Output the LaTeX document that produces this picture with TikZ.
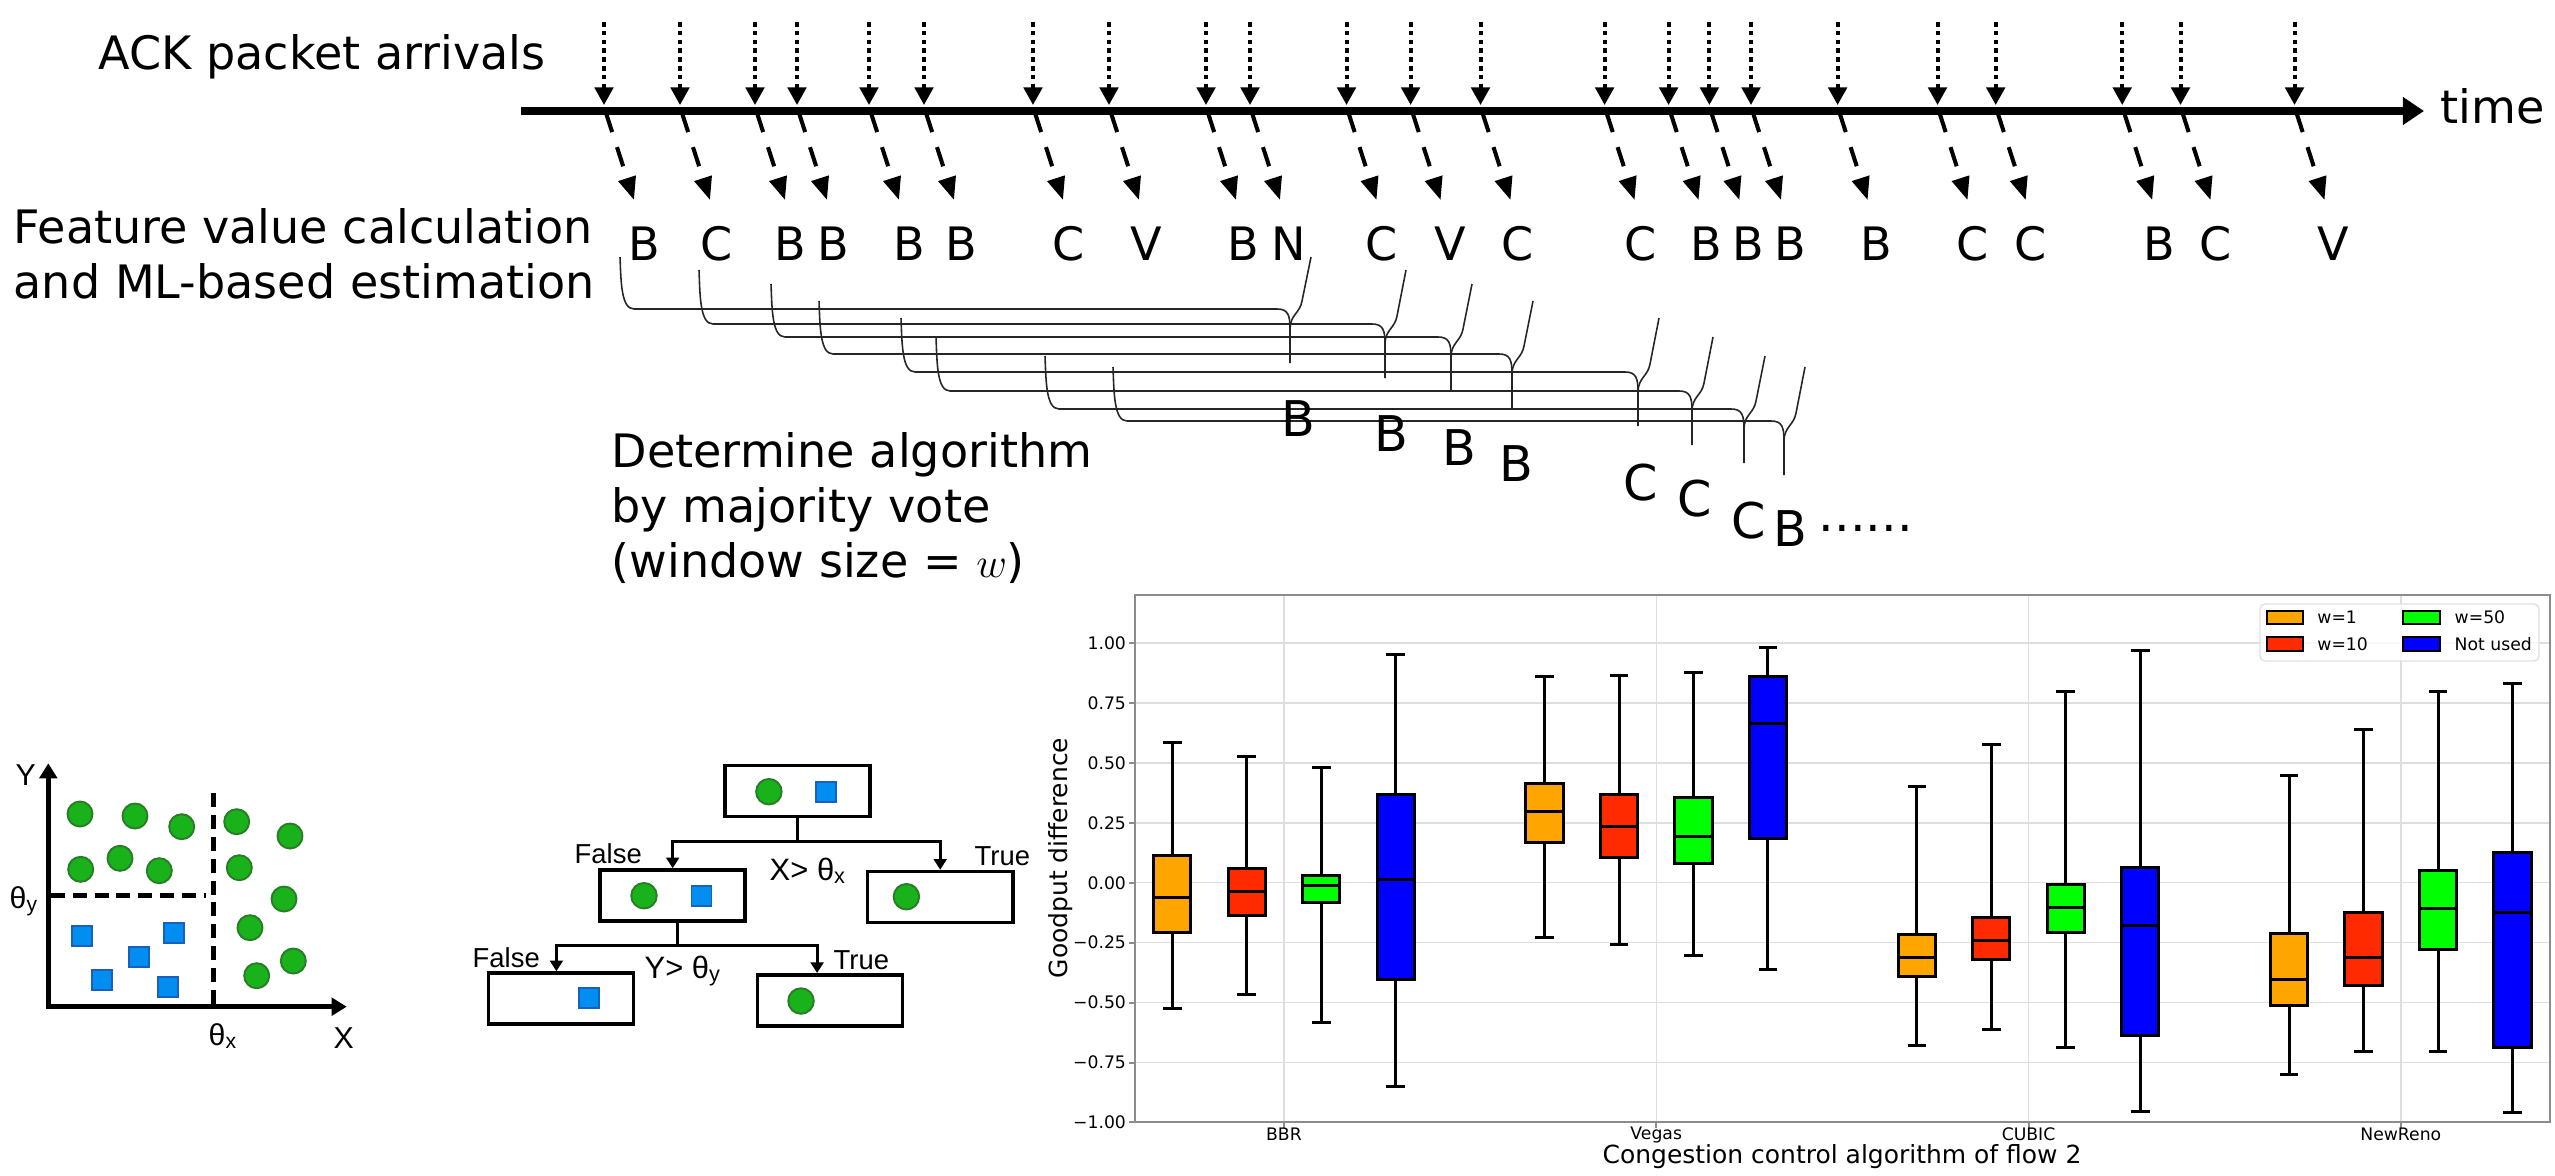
\documentclass[tikz,border=0pt]{standalone}
\usepackage{fontspec}
\setmainfont{DejaVu Sans}
\newfontfamily\arialf{Liberation Sans}
\usetikzlibrary{arrows.meta}

\definecolor{dotgreen}{RGB}{26,178,26}
\definecolor{dotgreenD}{RGB}{40,125,40}
\definecolor{sqblue}{RGB}{0,142,240}
\definecolor{sqblueD}{RGB}{25,95,190}
\definecolor{bxorange}{RGB}{255,165,0}
\definecolor{bxred}{RGB}{255,42,0}
\definecolor{bxgreen}{RGB}{0,255,0}
\definecolor{bxblue}{RGB}{0,0,255}
\definecolor{gridc}{RGB}{222,222,222}
\definecolor{spinec}{RGB}{140,140,140}

\newcommand\fBig{\fontsize{13.1pt}{15.7pt}\selectfont}
\newcommand\fRes{\fontsize{14pt}{16pt}\selectfont}
\newcommand\fTree{\arialf\fontsize{7.8pt}{9pt}\selectfont}
\newcommand\fCond{\arialf\fontsize{8.8pt}{10pt}\selectfont}
\newcommand\fAx{\arialf\fontsize{8.6pt}{10pt}\selectfont}
\newcommand\fTick{\fontsize{4.9pt}{6pt}\selectfont}
\newcommand\fTitle{\fontsize{7.1pt}{8.5pt}\selectfont}

% majority-vote brace: left x, arm top y, horizontal y, tip x
\newcommand\mybrace[4]{%
  \draw[braceline] (#1,#2) .. controls (#1+1,#3-28) and (#1+1,#3) .. (#1+14,#3)
     -- (#4-13,#3) .. controls (#4-2,#3) and (#4,#3+6) .. (#4,#3+20) -- (#4,#3+54);
  \draw[braceline] (#4,#3+20) .. controls (#4,#3+6) and (#4+10,#3+4) .. (#4+12,#3-8)
     -- (#4+21,#2);
}
% box plot: pos, low, q1, med, q3, high, colour
\newcommand\bxp[7]{%
  \draw[whisk] (#1,#2) -- (#1,#3) (#1,#5) -- (#1,#6)
    (#1-0.025,#2) -- (#1+0.025,#2) (#1-0.025,#6) -- (#1+0.025,#6);
  \filldraw[boxl, fill=#7] (#1-0.05,#3) rectangle (#1+0.05,#5);
  \draw[boxl] (#1-0.05,#4) -- (#1+0.05,#4);
}

\begin{document}
\begin{tikzpicture}[x=0.01cm,y=-0.01cm,
  letter/.style={font=\fBig, anchor=base, inner sep=0pt},
  result/.style={font=\fRes, anchor=base, inner sep=0pt},
  biglabel/.style={font=\fBig, anchor=base west, inner sep=0pt},
  ackarrow/.style={line width=1.15pt, dash pattern=on 1.3pt off 1.2pt,
     -{Triangle[width=5.2pt,length=5pt]}, shorten >=1.7pt},
  estarrow/.style={line width=1.15pt, dash pattern=on 5.7pt off 4.5pt,
     -{Triangle[width=5pt,length=6.5pt]}},
  timeline/.style={line width=2.3pt, -{Triangle[width=7.6pt,length=6pt]}},
  braceline/.style={line width=0.45pt, black!85},
  axisl/.style={line width=1.3pt, line join=miter,
     {Triangle[width=5pt,length=4.3pt]}-{Triangle[width=5pt,length=4.3pt]}},
  dashl/.style={line width=1.3pt, dash pattern=on 4pt off 2.2pt},
  gdot/.style={circle, draw=dotgreenD, fill=dotgreen, line width=0.55pt,
     minimum size=0.25cm, inner sep=0pt},
  bsq/.style={rectangle, draw=sqblueD, fill=sqblue, line width=0.5pt,
     minimum size=0.2cm, inner sep=0pt},
  treebox/.style={draw, line width=1pt, minimum width=1.45cm,
     minimum height=0.51cm, inner sep=0pt},
  treeline/.style={line width=0.85pt},
  treearrow/.style={line width=0.85pt, -{Triangle[width=3.6pt,length=3pt]}},
  treetext/.style={font=\fTree, anchor=base west, inner sep=0pt},
  condtext/.style={font=\fCond, anchor=base west, inner sep=0pt},
  axtext/.style={font=\fAx, anchor=base west, inner sep=0pt},
  gridl/.style={line width=0.4pt, gridc},
  spine/.style={line width=0.55pt, spinec},
  whisk/.style={line width=0.85pt, black},
  boxl/.style={line width=0.85pt, draw=black},
  ticklab/.style={font=\fTick, inner sep=0pt},
  legpatch/.style={line width=0.6pt, draw=black}
]
\useasboundingbox (0,0) rectangle (2555,1176);

% ---------------- timeline part ----------------
\node[biglabel] (ack) at (98,70) {ACK packet arrivals};
\node[biglabel] (feat1) at (13,243) {Feature value calculation};
\node[biglabel] (feat2) at (13,298) {and ML-based estimation};

\foreach \ax/\lx/\lt [count=\i] in {604/644/B, 680/717/C, 755/790/B, 797/833/B,
   869/909/B, 924/961/B, 1033/1069/C, 1109/1146/V, 1206/1243/B, 1250/1289/N,
   1346.5/1382/C, 1410.6/1450/V, 1480.5/1518/C, 1604.6/1641/C, 1668.6/1706/B,
   1709.4/1748/B, 1751/1790/B, 1837.6/1876/B, 1937.5/1973/C, 1995.7/2031/C,
   2122.2/2159/B, 2180.5/2216/C, 2294.5/2333/V}
{
  \coordinate (src\i) at (\ax,22);
  \coordinate (hit\i) at (\ax,111);
  \coordinate (st\i) at (\ax+2,113);
  \coordinate (tip\i) at (\ax+30,200);
  \draw[ackarrow] (src\i) -- (hit\i);
  \draw[estarrow] (st\i) -- (tip\i);
  \node[letter] (est\i) at (\lx,260) {\lt};
}
\coordinate (tl0) at (521,111);
\coordinate (tl1) at (2424,111);
\draw[timeline] (tl0) -- (tl1);
\node[biglabel] (time) at (2440,124) {time};

% ---------------- majority vote braces ----------------
\mybrace{620}{257}{309}{1290}
\mybrace{699}{270}{324}{1385}
\mybrace{771}{284}{337}{1451}
\mybrace{819}{301}{354}{1512}
\mybrace{901}{318}{372}{1638}
\mybrace{936}{337}{391}{1692}
\mybrace{1045}{356}{409}{1744}
\mybrace{1113}{367}{421}{1784}

\node[result] (r1) at (1298,436) {B};
\node[result] (r2) at (1391,451) {B};
\node[result] (r3) at (1459,465) {B};
\node[result] (r4) at (1516,481) {B};
\node[result] (r5) at (1641,500) {C};
\node[result] (r6) at (1695,516) {C};
\node[result] (r7) at (1749,538) {C};
\node[result] (r8) at (1790,546) {B};
\node[font=\fRes, anchor=base west, inner sep=0pt] (rdots) at (1818,546) {\raisebox{4pt}{......}};

\node[biglabel] (det1) at (611,467) {Determine algorithm};
\node[biglabel] (det2) at (611,522) {by majority vote};
\node[biglabel] (det3) at (611,577) {(window size = $w$)};

% ---------------- scatter plot ----------------
\coordinate (sye) at (48.3,763.3);
\coordinate (sxo) at (48.3,1006.7);
\coordinate (sxe) at (346.7,1006.7);
\coordinate (vd0) at (213.3,793.3);
\coordinate (vd1) at (213.3,1004);
\coordinate (hd0) at (51,895.7);
\coordinate (hd1) at (206,895.7);
\draw[dashl] (vd0) -- (vd1);
\draw[dashl] (hd0) -- (hd1);
\draw[axisl] (sye) -- (sxo) -- (sxe);
\foreach \px/\py [count=\k] in {80/814, 135/816, 181.7/826.7, 236.7/821.7, 290/836,
   80.7/869.3, 120/858.3, 159.3/870.7, 239.3/867.7, 284/899, 250/927.7,
   256.7/975.7, 293.3/961}
  \node[gdot] (g\k) at (\px,\py) {};
\foreach \px/\py [count=\k] in {81.7/936, 174/933.3, 139.3/956.7, 101.7/980, 168.3/987.3}
  \node[bsq] (q\k) at (\px,\py) {};
\node[axtext] (ylab) at (15,785) {Y};
\node[axtext] (xlab) at (333,1048) {X};
\node[axtext] (thy) at (9,908) {θ\textsubscript{y}};
\node[axtext] (thx) at (208,1045) {θ\textsubscript{x}};

% ---------------- decision tree ----------------
\node[treebox] (root) at (797.7,790.8) {};
\node[treebox] (fL) at (672.7,895.5) {};
\node[treebox] (fR) at (940.2,897) {};
\node[treebox] (fLL) at (560.9,998.5) {};
\node[treebox] (fLR) at (829.9,1000.3) {};
\node[gdot, minimum size=0.255cm] (rc) at (768.9,791.7) {};
\node[bsq] (rs) at (826,791.7) {};
\node[gdot, minimum size=0.255cm] (lc) at (644,895.7) {};
\node[bsq] (ls) at (701.4,895.7) {};
\node[gdot, minimum size=0.255cm] (rrc) at (906.4,896.7) {};
\node[bsq] (lls) at (589.3,998.3) {};
\node[gdot, minimum size=0.255cm] (lrc) at (801,1001) {};

\draw[treeline] (root.south) -- ++(0,23) coordinate (j1);
\draw[treearrow] (j1) -| (fL.north);
\draw[treearrow] (j1) -| (fR.north);
\draw[treeline] ([xshift=0.05cm]fL.south) -- ++(0,22.5) coordinate (j2);
\draw[treearrow] (j2) -| ([xshift=-0.045cm]fLL.north);
\draw[treearrow] (j2) -| ([xshift=-0.128cm]fLR.north);

\node[treetext] (f1) at (574,863) {False};
\node[treetext] (t1) at (974,865) {True};
\node[condtext] (c1) at (769,880) {X> θ\textsubscript{x}};
\node[treetext] (f2) at (472,967) {False};
\node[treetext] (t2) at (833,969) {True};
\node[condtext] (c2) at (644,978) {Y> θ\textsubscript{y}};

% ---------------- box plot ----------------
\begin{scope}[shift={(12.832cm,-8.8225cm)}, x=3.7207cm, y=2.3955cm]
  \foreach \v in {-1,-0.75,-0.5,-0.25,0,0.25,0.5,0.75,1}
    \draw[gridl] (-0.4,\v) -- (3.4,\v);
  \foreach \c in {0,1,2,3}
    \draw[gridl] (\c,-1) -- (\c,1.2);
  \draw[spine] (-0.4,-1) rectangle (3.4,1.2);
  \foreach \v/\t [count=\k] in {1/1.00, 0.75/0.75, 0.5/0.50, 0.25/0.25, 0/0.00,
      -0.25/−0.25, -0.5/−0.50, -0.75/−0.75, -1/−1.00} {
    \draw[spine] (-0.4,\v) -- (-0.417,\v);
    \node[ticklab, anchor=east] (yt\k) at (-0.4225,\v) {\t};
  }
  \foreach \c/\t in {0/BBR, 1/Vegas, 2/CUBIC, 3/NewReno} {
    \draw[spine] (\c,-1) -- (\c,-1.025);
    \node[ticklab] (xt\c) at (\c,-1.051) {\t};
  }
  % BBR
  \bxp{-0.3}{-0.524}{-0.206}{-0.0635}{0.113}{0.584}{bxorange}
  \bxp{-0.1}{-0.465}{-0.135}{-0.0365}{0.060}{0.527}{bxred}
  \bxp{0.1}{-0.583}{-0.0825}{-0.0127}{0.032}{0.479}{bxgreen}
  \bxp{0.3}{-0.852}{-0.402}{0.0127}{0.368}{0.954}{bxblue}
  % Vegas
  \bxp{0.7}{-0.227}{0.168}{0.298}{0.416}{0.862}{bxorange}
  \bxp{0.9}{-0.256}{0.105}{0.233}{0.367}{0.865}{bxred}
  \bxp{1.1}{-0.305}{0.081}{0.192}{0.357}{0.876}{bxgreen}
  \bxp{1.3}{-0.360}{0.186}{0.665}{0.862}{0.983}{bxblue}
  % CUBIC
  \bxp{1.7}{-0.679}{-0.389}{-0.31}{-0.214}{0.402}{bxorange}
  \bxp{1.9}{-0.611}{-0.321}{-0.241}{-0.144}{0.575}{bxred}
  \bxp{2.1}{-0.687}{-0.206}{-0.103}{-0.006}{0.800}{bxgreen}
  \bxp{2.3}{-0.954}{-0.638}{-0.178}{0.063}{0.971}{bxblue}
  % NewReno
  \bxp{2.7}{-0.798}{-0.511}{-0.402}{-0.211}{0.446}{bxorange}
  \bxp{2.9}{-0.703}{-0.427}{-0.311}{-0.124}{0.641}{bxred}
  \bxp{3.1}{-0.706}{-0.278}{-0.108}{0.052}{0.797}{bxgreen}
  \bxp{3.3}{-0.957}{-0.686}{-0.122}{0.125}{0.833}{bxblue}
\end{scope}

\node[font=\fTitle, rotate=90, inner sep=0pt] (ytitle) at (1061,858) {Goodput difference};
\node[font=\fTitle, inner sep=0pt] (xtitle) at (1842,1157) {Congestion control algorithm of flow 2};

% legend
\draw[rounded corners=1.4pt, draw=black!12, fill=white, fill opacity=0.8, line width=0.4pt]
  (2260,604) rectangle (2539,661);
\filldraw[legpatch, fill=bxorange] (2266.7,611) rectangle (2302.7,624.3);
\filldraw[legpatch, fill=bxred] (2266.7,637.3) rectangle (2302.7,650.7);
\filldraw[legpatch, fill=bxgreen] (2403.3,611) rectangle (2440,624.3);
\filldraw[legpatch, fill=bxblue] (2403.3,637.3) rectangle (2440,650.7);
\node[ticklab, anchor=west] (lg1) at (2316.7,617.7) {w=1};
\node[ticklab, anchor=west] (lg2) at (2316.7,644) {w=10};
\node[ticklab, anchor=west] (lg3) at (2454,617.7) {w=50};
\node[ticklab, anchor=west] (lg4) at (2454,644) {Not used};
\end{tikzpicture}
\end{document}
